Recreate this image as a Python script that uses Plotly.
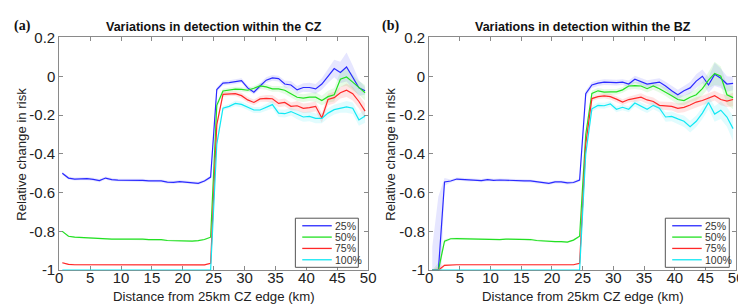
import plotly.graph_objects as go

# ---------------- data ----------------
x_km = [i + 0.5 for i in range(50)]
series_names = ["25%", "50%", "75%", "100%"]

# Panel (a): Variations in detection within the CZ
a_25 = [-0.50, -0.525, -0.53, -0.528, -0.528, -0.532, -0.538, -0.525, -0.533, -0.536,
        -0.536, -0.536, -0.537, -0.537, -0.54, -0.54, -0.54, -0.546, -0.547, -0.543,
        -0.545, -0.548, -0.552, -0.54, -0.52,
        -0.068, -0.035, -0.033, -0.028, -0.022, -0.06, -0.082, -0.05, -0.02, -0.008,
        -0.012, -0.04, -0.045, -0.07, -0.058, -0.058, -0.065, -0.04, 0.0, 0.04,
        0.02, 0.048, -0.005, -0.06, -0.075]
a_50 = [-0.80, -0.825, -0.83, -0.832, -0.835, -0.835, -0.836, -0.838, -0.84, -0.84,
        -0.84, -0.84, -0.838, -0.84, -0.842, -0.842, -0.843, -0.847, -0.848, -0.85,
        -0.851, -0.85, -0.848, -0.842, -0.83,
        -0.15, -0.076, -0.072, -0.066, -0.068, -0.072, -0.062, -0.05, -0.055, -0.065,
        -0.065, -0.072, -0.09, -0.108, -0.113, -0.108, -0.108, -0.125, -0.105, -0.095,
        -0.015, -0.004, -0.03, -0.06, -0.085]
a_75 = [-0.962, -0.97, -0.972, -0.972, -0.973, -0.973, -0.973, -0.974, -0.974, -0.974,
        -0.974, -0.974, -0.974, -0.974, -0.974, -0.974, -0.975, -0.975, -0.975, -0.975,
        -0.975, -0.975, -0.974, -0.973, -0.965,
        -0.25, -0.093, -0.09, -0.09, -0.1, -0.122, -0.135, -0.117, -0.114, -0.116,
        -0.14, -0.135, -0.155, -0.152, -0.165, -0.162, -0.155, -0.215, -0.12, -0.11,
        -0.085, -0.072, -0.09, -0.13, -0.18]
a_100 = [-1.0] * 25 + [
        -0.35, -0.165, -0.155, -0.14, -0.145, -0.16, -0.174, -0.174, -0.16, -0.146,
        -0.19, -0.193, -0.182, -0.197, -0.21, -0.207, -0.217, -0.217, -0.19, -0.172,
        -0.163, -0.158, -0.165, -0.225, -0.205]

# half-widths of the shaded bands (panel a)
a_25_hw = [0.008] * 25 + [0.01, 0.012, 0.012, 0.012, 0.012, 0.012, 0.012, 0.015, 0.015, 0.015,
                          0.015, 0.018, 0.02, 0.02, 0.022, 0.025, 0.025, 0.03, 0.035, 0.045,
                          0.055, 0.075, 0.06, 0.04, 0.02]
a_50_hw = [0.004] * 25 + [0.015, 0.012, 0.012, 0.012, 0.012, 0.012, 0.012, 0.015, 0.015, 0.015,
                          0.015, 0.02, 0.02, 0.02, 0.02, 0.02, 0.025, 0.025, 0.03, 0.035,
                          0.04, 0.045, 0.04, 0.035, 0.04]
a_75_hw = [0.004] * 25 + [0.015, 0.012, 0.012, 0.012, 0.015, 0.015, 0.015, 0.015, 0.018, 0.02,
                          0.02, 0.02, 0.02, 0.025, 0.025, 0.025, 0.025, 0.025, 0.03, 0.03,
                          0.03, 0.035, 0.035, 0.035, 0.04]
a_100_hw = [0.002] * 25 + [0.015, 0.012, 0.012, 0.015, 0.015, 0.015, 0.015, 0.015, 0.018, 0.02,
                           0.02, 0.02, 0.02, 0.025, 0.025, 0.025, 0.025, 0.025, 0.025, 0.025,
                           0.025, 0.03, 0.03, 0.03, 0.035]

# Panel (b): Variations in detection within the BZ
b_25 = [-1.0, -1.0, -0.545, -0.54, -0.53, -0.532, -0.535, -0.534, -0.538, -0.533,
        -0.537, -0.535, -0.537, -0.538, -0.538, -0.539, -0.54, -0.545, -0.55, -0.552,
        -0.545, -0.545, -0.55, -0.548, -0.535,
        -0.09, -0.045, -0.035, -0.03, -0.033, -0.033, -0.03, -0.04, -0.015, -0.028,
        -0.04, -0.035, -0.03, -0.05, -0.075, -0.095, -0.075, -0.06, -0.025, 0.0,
        -0.045, 0.01, -0.01, -0.04, -0.037]
b_50 = [-1.0, -1.0, -0.85, -0.838, -0.837, -0.838, -0.838, -0.838, -0.84, -0.84,
        -0.842, -0.842, -0.84, -0.84, -0.84, -0.84, -0.842, -0.847, -0.85, -0.852,
        -0.853, -0.853, -0.855, -0.845, -0.825,
        -0.3, -0.088, -0.075, -0.082, -0.08, -0.08, -0.07, -0.05, -0.048, -0.05,
        -0.064, -0.05, -0.064, -0.08, -0.1, -0.12, -0.125, -0.108, -0.095, -0.064,
        -0.02, 0.015, 0.0, -0.095, -0.11]
b_75 = [-1.0, -1.0, -0.975, -0.972, -0.972, -0.972, -0.972, -0.972, -0.972, -0.972,
        -0.972, -0.972, -0.972, -0.972, -0.972, -0.972, -0.972, -0.973, -0.973, -0.973,
        -0.973, -0.973, -0.972, -0.972, -0.965,
        -0.35, -0.115, -0.105, -0.101, -0.105, -0.118, -0.133, -0.12, -0.114, -0.108,
        -0.122, -0.13, -0.15, -0.152, -0.155, -0.165, -0.16, -0.148, -0.133, -0.125,
        -0.112, -0.1, -0.12, -0.128, -0.12]
b_100 = [-1.0] * 25 + [
        -0.4, -0.168, -0.15, -0.152, -0.142, -0.17, -0.16, -0.17, -0.138, -0.155,
        -0.17, -0.15, -0.165, -0.21, -0.207, -0.22, -0.232, -0.26, -0.232, -0.19,
        -0.135, -0.195, -0.175, -0.21, -0.27]

b_25_hw = [0.12, 0.38, 0.02] + [0.008] * 22 + [
        0.015, 0.015, 0.015, 0.015, 0.015, 0.015, 0.015, 0.018, 0.018, 0.018,
        0.02, 0.02, 0.02, 0.022, 0.025, 0.025, 0.025, 0.03, 0.035, 0.035,
        0.04, 0.06, 0.05, 0.04, 0.035]
b_50_hw = [0.0, 0.04, 0.01] + [0.005] * 22 + [
        0.015, 0.015, 0.015, 0.015, 0.015, 0.015, 0.015, 0.018, 0.018, 0.02,
        0.02, 0.02, 0.02, 0.022, 0.022, 0.025, 0.025, 0.025, 0.03, 0.035,
        0.04, 0.06, 0.05, 0.05, 0.06]
b_75_hw = [0.0, 0.02, 0.005] + [0.004] * 22 + [
        0.015, 0.012, 0.012, 0.012, 0.015, 0.015, 0.015, 0.015, 0.018, 0.02,
        0.02, 0.02, 0.02, 0.022, 0.022, 0.025, 0.025, 0.025, 0.025, 0.025,
        0.025, 0.025, 0.03, 0.03, 0.035]
b_100_hw = [0.002] * 25 + [
        0.015, 0.015, 0.015, 0.015, 0.015, 0.015, 0.015, 0.015, 0.018, 0.02,
        0.02, 0.02, 0.02, 0.025, 0.025, 0.025, 0.03, 0.03, 0.03, 0.03,
        0.035, 0.04, 0.045, 0.05, 0.065]

x_ticks = [0, 5, 10, 15, 20, 25, 30, 35, 40, 45, 50]
y_ticks = [0.2, 0, -0.2, -0.4, -0.6, -0.8, -1]
y_tick_text = ["0.2", "0", "-0.2", "-0.4", "-0.6", "-0.8", "-1"]

titles = ["Variations in detection within the CZ", "Variations in detection within the BZ"]
panel_labels = ["(a)", "(b)"]
x_title = "Distance from 25km CZ edge (km)"
y_title = "Relative change in risk"

# ---------------- styling ----------------
line_colors = ["#2a2aff", "#22e022", "#ff2828", "#10e8f4"]
band_colors = ["rgba(60,60,255,0.13)", "rgba(40,220,40,0.12)",
               "rgba(255,50,50,0.13)", "rgba(20,230,245,0.13)"]
SANS = "Liberation Sans"

W, H = 746, 307
def px_x(p):
    return p / W
def px_y(p):
    return 1 - p / H

dom_x = [[px_x(48), px_x(362)], [px_x(424), px_x(736)]]
dom_y = [px_y(268), px_y(21.7)]

fig = go.Figure()

panels = [
    ([a_25, a_50, a_75, a_100], [a_25_hw, a_50_hw, a_75_hw, a_100_hw]),
    ([b_25, b_50, b_75, b_100], [b_25_hw, b_50_hw, b_75_hw, b_100_hw]),
]

for p, (vals, hws) in enumerate(panels):
    xa = "x" if p == 0 else "x2"
    ya = "y" if p == 0 else "y2"
    for s in range(4):
        up = [v + h for v, h in zip(vals[s], hws[s])]
        lo = [v - h for v, h in zip(vals[s], hws[s])]
        fig.add_trace(go.Scatter(
            x=x_km + x_km[::-1], y=up + lo[::-1], fill="toself",
            fillcolor=band_colors[s], line=dict(width=0), mode="lines",
            hoverinfo="skip", showlegend=False, xaxis=xa, yaxis=ya))
    for s in range(4):
        fig.add_trace(go.Scatter(
            x=x_km, y=vals[s], mode="lines", name=series_names[s],
            line=dict(color=line_colors[s], width=1.2),
            showlegend=False, xaxis=xa, yaxis=ya))

axis_common = dict(
    showgrid=False, zeroline=False, showline=True, linecolor="#8a8a8a", linewidth=1,
    mirror="ticks", ticks="inside", ticklen=4, tickcolor="#8a8a8a", tickwidth=1,
    tickfont=dict(family=SANS, size=15, color="#222"),
    layer="below traces",
)

layout_axes = {}
for p in range(2):
    sx = "xaxis" if p == 0 else "xaxis2"
    sy = "yaxis" if p == 0 else "yaxis2"
    layout_axes[sx] = dict(axis_common, domain=dom_x[p], range=[0, 50],
                           tickvals=x_ticks, anchor="y" if p == 0 else "y2",
                           ticklabelstandoff=-6)
    layout_axes[sy] = dict(axis_common, domain=dom_y, range=[-1, 0.2],
                           tickvals=y_ticks, ticktext=y_tick_text,
                           anchor="x" if p == 0 else "x2")

fig.update_layout(
    width=W, height=H, margin=dict(l=0, r=0, t=0, b=0),
    paper_bgcolor="white", plot_bgcolor="white",
    showlegend=False, **layout_axes)

annotations = []
shapes = []
for p in range(2):
    cx = (dom_x[p][0] + dom_x[p][1]) / 2
    annotations.append(dict(text="<b>" + titles[p] + "</b>", x=cx, y=px_y(10.5),
                            xref="paper", yref="paper", showarrow=False,
                            font=dict(family=SANS, size=12.5, color="#111"),
                            xanchor="center", yanchor="middle"))
    annotations.append(dict(text="<b>" + panel_labels[p] + "</b>",
                            x=px_x(0 if p == 0 else 374), y=px_y(9), xref="paper", yref="paper",
                            showarrow=False, font=dict(family="Liberation Serif", size=14,
                                                       color="#111"),
                            xanchor="left", yanchor="middle"))
    annotations.append(dict(text=x_title, x=cx, y=px_y(296), xref="paper", yref="paper",
                            showarrow=False, font=dict(family=SANS, size=13.2, color="#222"),
                            xanchor="center", yanchor="middle"))
    annotations.append(dict(text=y_title, x=px_x(10 if p == 0 else 385), y=px_y(145),
                            xref="paper", yref="paper", textangle=-90,
                            showarrow=False, font=dict(family=SANS, size=13.2, color="#222"),
                            xanchor="center", yanchor="middle"))
    bx0 = 288 if p == 0 else 664
    bx1 = 352 if p == 0 else 729
    by0, by1 = 213, 265
    shapes.append(dict(type="rect", xref="paper", yref="paper",
                       x0=px_x(bx0), x1=px_x(bx1), y0=px_y(by1), y1=px_y(by0),
                       line=dict(color="#555", width=1), fillcolor="white", layer="above"))
    for s in range(4):
        yy = by0 + 8 + s * 12
        shapes.append(dict(type="line", xref="paper", yref="paper",
                           x0=px_x(bx0 + 7), x1=px_x(bx0 + 37), y0=px_y(yy), y1=px_y(yy),
                           line=dict(color=line_colors[s], width=1.3), layer="above"))
        annotations.append(dict(text=series_names[s], x=px_x(bx0 + 38), y=px_y(yy),
                                xref="paper", yref="paper", showarrow=False,
                                font=dict(family=SANS, size=10.5, color="#333"),
                                xanchor="left", yanchor="middle"))

fig.update_layout(annotations=annotations, shapes=shapes)
fig.write_html("out.html")
